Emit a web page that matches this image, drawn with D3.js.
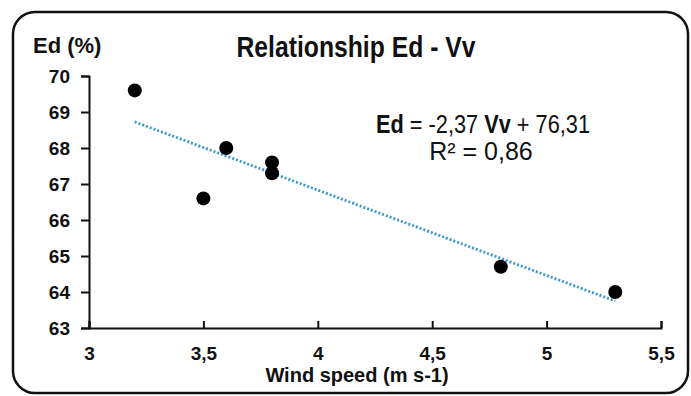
<!DOCTYPE html>
<html>
<head>
<meta charset="utf-8">
<script src="https://cdn.jsdelivr.net/npm/d3@7"></script>
<style>
	body { margin: 0; background: #fff; }
	text { font-family: 'Liberation Sans', Arial, sans-serif; fill: #111; }
	.tick text { font-weight: 700; font-size: 19px; }
</style>
</head>
<body>
<script>
// values
const windSpeed = [3.2, 3.5, 3.6, 3.8, 3.8, 4.8, 5.3];
const edPercent = [69.6, 66.6, 68.0, 67.6, 67.3, 64.7, 64.0];
const xTicks = [3, 3.5, 4, 4.5, 5, 5.5];
const yTicks = [63, 64, 65, 66, 67, 68, 69, 70];
// linear trend printed on the chart
const slope = -2.37;
const intercept = 76.31;
const rSquared = 0.86;

const width = 691;
const height = 396;
const comma = (d) => String(d).replace('.', ',');

const svg = d3.select('body').append('svg').attr('width', width).attr('height', height);

// rounded frame
svg
	.append('rect')
	.attr('x', 13)
	.attr('y', 12)
	.attr('width', 675)
	.attr('height', 381)
	.attr('rx', 22)
	.attr('fill', '#fff')
	.attr('stroke', '#111')
	.attr('stroke-width', 2.5);

const xScale = d3.scaleLinear().domain([ 3, 5.5 ]).range([ 89, 661 ]);
const yScale = d3.scaleLinear().domain([ 63, 70 ]).range([ 328, 76 ]);

const xAxis = d3.axisBottom(xScale).tickValues(xTicks).tickFormat(comma).tickSizeInner(-7).tickSizeOuter(-7).tickPadding(19);
const yAxis = d3.axisLeft(yScale).tickValues(yTicks).tickFormat(comma).tickSize(8).tickPadding(11);

const gx = svg.append('g').attr('transform', `translate(0, ${yScale(63)})`).call(xAxis);
const gy = svg.append('g').attr('transform', `translate(${xScale(3)}, 0)`).call(yAxis);

[ gx, gy ].forEach((g) => {
	g.attr('font-family', null).attr('font-size', null).attr('font-weight', 'bold');
	g.select('.domain').attr('stroke', '#111').attr('stroke-width', 2);
	g.selectAll('.tick line').attr('stroke', '#111').attr('stroke-width', 2);
	g.selectAll('.tick text').attr('fill', '#111').attr('font-weight', 'bold');
});

// trend line
const trendX = [ d3.min(windSpeed), d3.max(windSpeed) ];
svg
	.append('line')
	.attr('x1', xScale(trendX[0]))
	.attr('y1', yScale(slope * trendX[0] + intercept))
	.attr('x2', xScale(trendX[1]))
	.attr('y2', yScale(slope * trendX[1] + intercept))
	.attr('stroke', '#3b98d2')
	.attr('stroke-width', 2.8)
	.attr('stroke-dasharray', '2,2');

// points
svg
	.selectAll('circle')
	.data(windSpeed)
	.enter()
	.append('circle')
	.attr('cx', (d) => xScale(d))
	.attr('cy', (d, i) => yScale(edPercent[i]))
	.attr('r', 7)
	.attr('fill', '#000');

// title
svg
	.append('text')
	.attr('x', 356)
	.attr('y', 57)
	.attr('text-anchor', 'middle')
	.attr('font-size', 30)
	.attr('font-weight', 'bold')
	.attr('textLength', 239)
	.attr('lengthAdjust', 'spacingAndGlyphs')
	.text('Relationship Ed - Vv');

// axis titles
svg
	.append('text')
	.attr('x', 33)
	.attr('y', 53)
	.attr('font-size', 22)
	.attr('font-weight', 'bold')
	.text('Ed (%)');

svg
	.append('text')
	.attr('x', 357)
	.attr('y', 382)
	.attr('text-anchor', 'middle')
	.attr('font-size', 20)
	.attr('font-weight', 'bold')
	.text('Wind speed (m s-1)');

// equation, slightly condensed like the original
const eq = svg
	.append('text')
	.attr('transform', 'translate(483, 133) scale(0.87, 1)')
	.attr('text-anchor', 'middle')
	.attr('font-size', 25);
eq.append('tspan').attr('font-weight', 'bold').text('Ed');
eq.append('tspan').text(` = ${comma(slope)} `);
eq.append('tspan').attr('font-weight', 'bold').text('Vv');
eq.append('tspan').text(` + ${comma(intercept)}`);

svg
	.append('text')
	.attr('x', 481)
	.attr('y', 160)
	.attr('text-anchor', 'middle')
	.attr('font-size', 25)
	.text(`R² = ${comma(rSquared)}`);
</script>
</body>
</html>
